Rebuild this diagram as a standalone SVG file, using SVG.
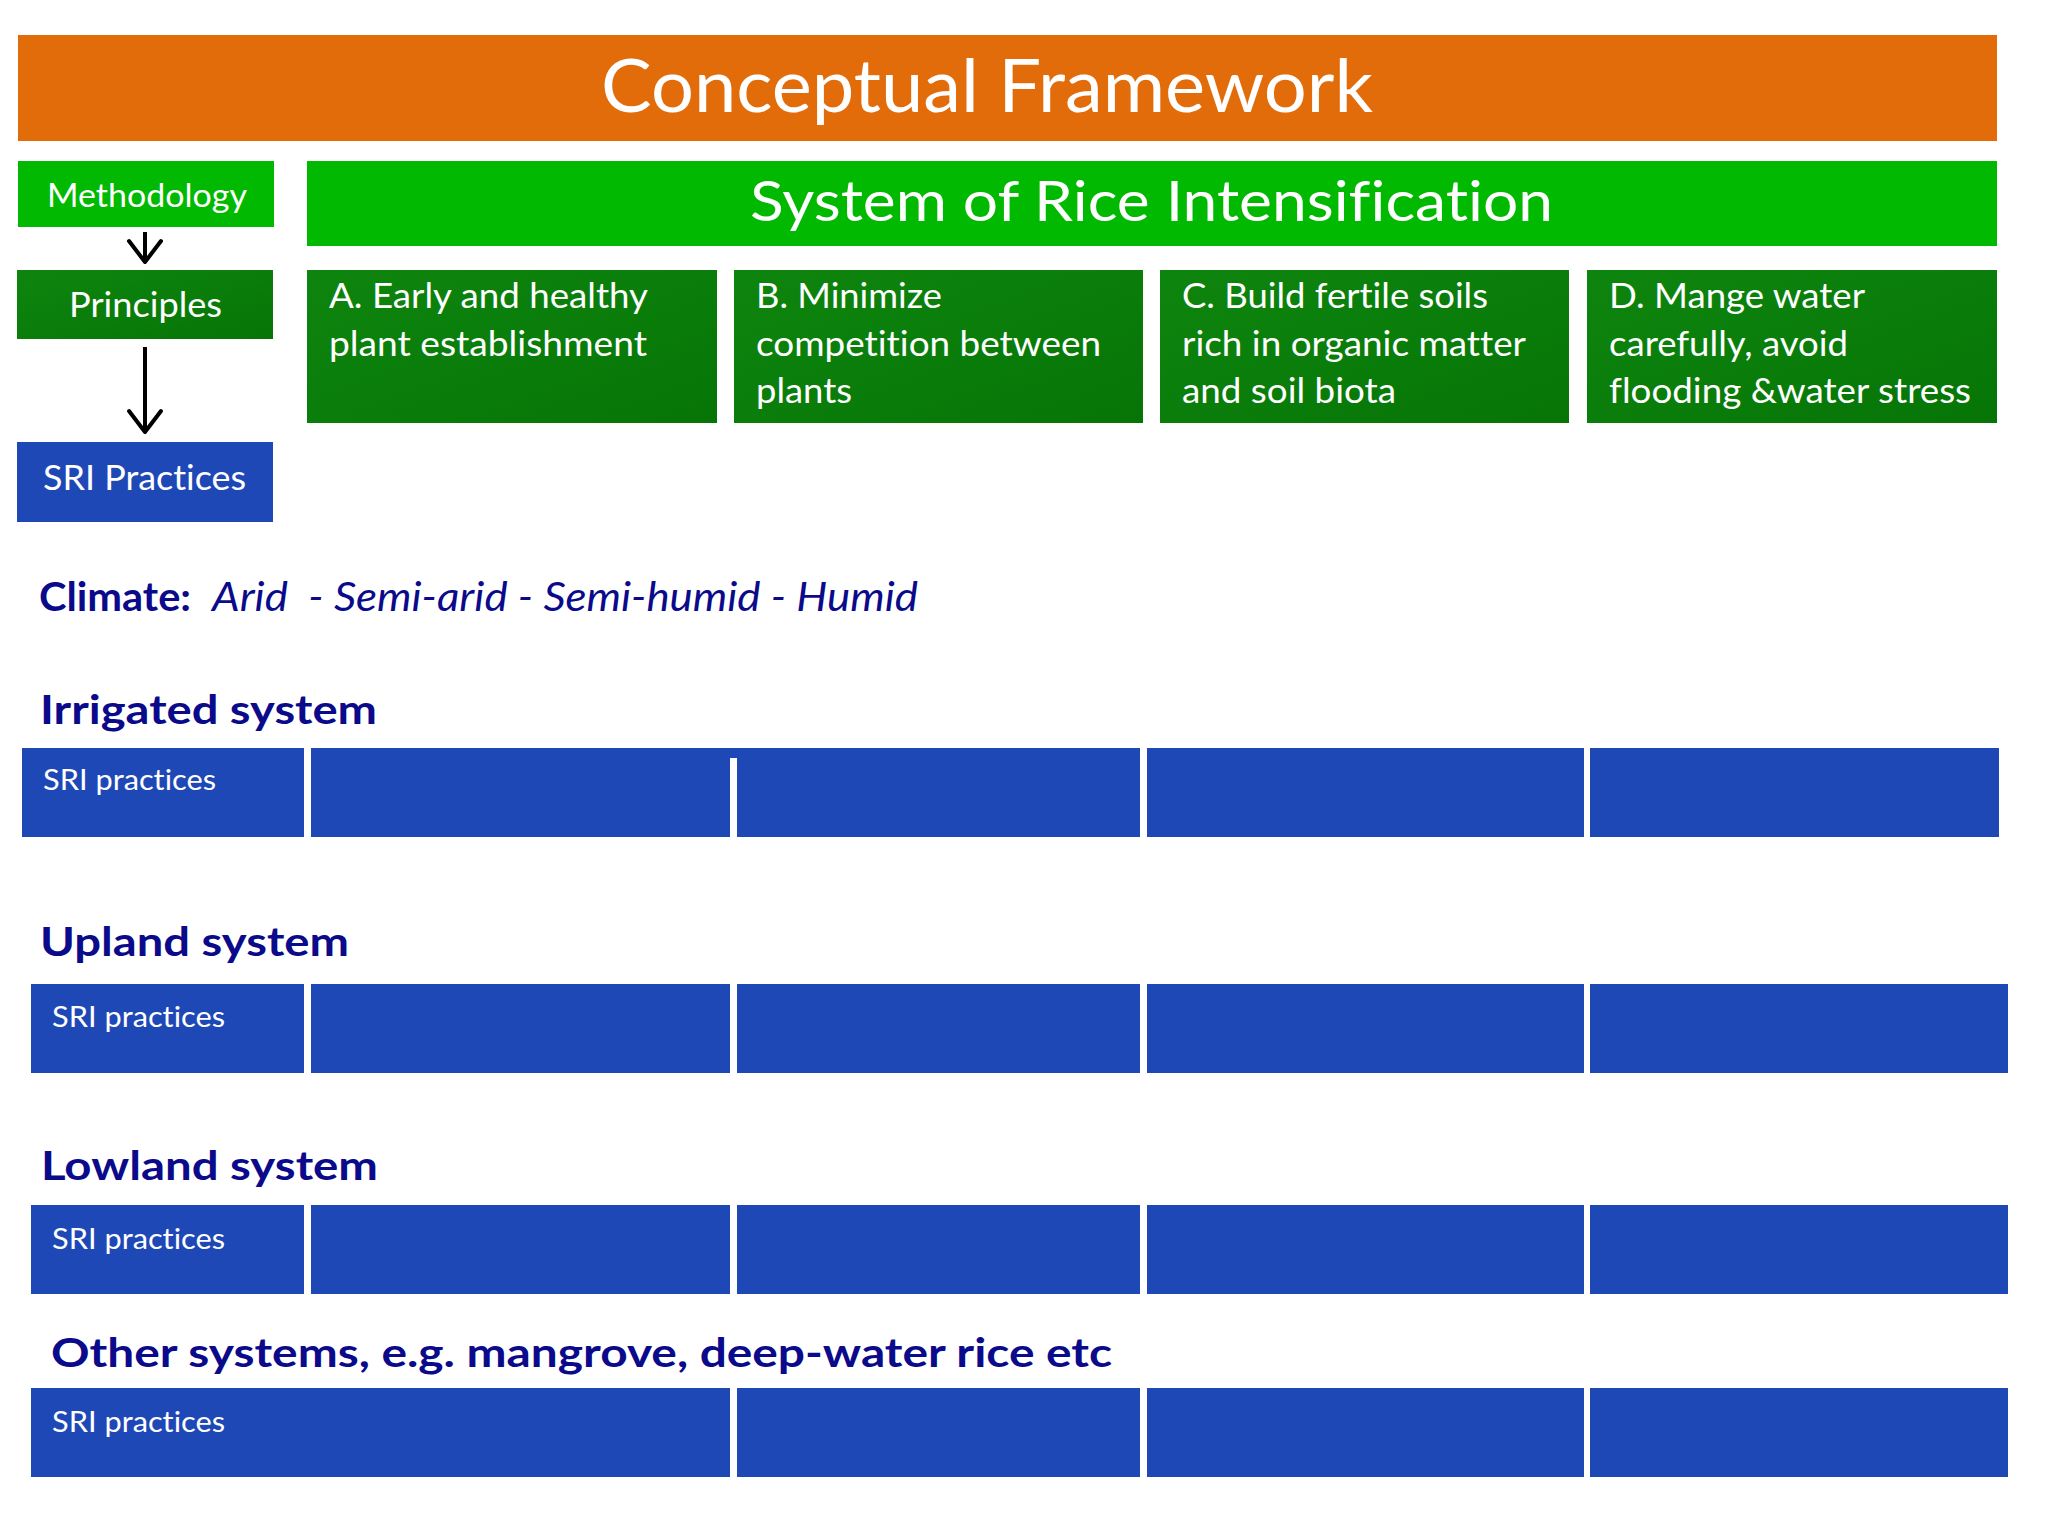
<svg xmlns="http://www.w3.org/2000/svg" width="2048" height="1536" viewBox="0 0 2048 1536">
<defs>
<style>
text{font-family:Lato,"Open Sans","Liberation Sans",sans-serif;font-variant-ligatures:none;font-feature-settings:"liga" 0;}
.w{fill:#ffffff;}
.n{fill:#0A0A8A;}
.b{font-weight:bold;}
.i{font-style:italic;}
.org{fill:#E36C0A;}
.lg{fill:#00B900;}
.dg{fill:url(#dgg);}
.bl{fill:#1F48B7;}
.pt{font-size:35px;}
.sp{font-size:29px;}
.hd{font-size:41px;font-weight:bold;}
.arr{stroke:#000;stroke-width:4;fill:none;marker-end:url(#vh);}
</style>
<linearGradient id="dgg" x1="0" y1="0" x2="1" y2="1">
<stop offset="0" stop-color="#0E850E"/>
<stop offset="1" stop-color="#067506"/>
</linearGradient>
<marker id="vh" markerUnits="userSpaceOnUse" viewBox="-24 -20 28 40" refX="0" refY="0" markerWidth="28" markerHeight="40" orient="auto">
<path d="M-21,-16 L0,0 L-21,16" fill="none" stroke="#000" stroke-width="4" stroke-linejoin="round" stroke-linecap="round"/>
</marker>
</defs>
<rect width="2048" height="1536" fill="#ffffff"/>

<g id="title">
<rect class="org" x="18" y="35" width="1979" height="106"/>
<text class="w" x="601" y="112" font-size="74" textLength="772" lengthAdjust="spacingAndGlyphs">Conceptual Framework</text>
</g>

<g id="methodology">
<rect class="lg" x="18" y="161" width="256" height="66"/>
<text class="w" x="47" y="207" font-size="32" textLength="200" lengthAdjust="spacingAndGlyphs">Methodology</text>
</g>

<g id="principles">
<rect class="dg" x="17" y="270" width="256" height="69"/>
<text class="w" x="69" y="317" font-size="35" textLength="153" lengthAdjust="spacingAndGlyphs">Principles</text>
</g>

<g id="sri-practices">
<rect class="bl" x="17" y="442" width="256" height="80"/>
<text class="w" x="43" y="490" font-size="35" textLength="203" lengthAdjust="spacingAndGlyphs">SRI Practices</text>
</g>

<g id="sri">
<rect class="lg" x="307" y="161" width="1690" height="85"/>
<text class="w" x="750" y="221" font-size="57" textLength="803" lengthAdjust="spacingAndGlyphs">System of Rice Intensification</text>
</g>

<g id="principle-a">
<rect class="dg" x="307" y="270" width="410" height="153"/>
<text class="w pt" x="329" y="308" textLength="319" lengthAdjust="spacingAndGlyphs">A. Early and healthy</text>
<text class="w pt" x="329" y="356" textLength="318" lengthAdjust="spacingAndGlyphs">plant establishment</text>
</g>

<g id="principle-b">
<rect class="dg" x="734" y="270" width="409" height="153"/>
<text class="w pt" x="756" y="308" textLength="186" lengthAdjust="spacingAndGlyphs">B. Minimize</text>
<text class="w pt" x="756" y="356" textLength="345" lengthAdjust="spacingAndGlyphs">competition between</text>
<text class="w pt" x="756" y="403" textLength="96" lengthAdjust="spacingAndGlyphs">plants</text>
</g>

<g id="principle-c">
<rect class="dg" x="1160" y="270" width="409" height="153"/>
<text class="w pt" x="1182" y="308" textLength="306" lengthAdjust="spacingAndGlyphs">C. Build fertile soils</text>
<text class="w pt" x="1182" y="356" textLength="344" lengthAdjust="spacingAndGlyphs">rich in organic matter</text>
<text class="w pt" x="1182" y="403" textLength="214" lengthAdjust="spacingAndGlyphs">and soil biota</text>
</g>

<g id="principle-d">
<rect class="dg" x="1587" y="270" width="410" height="153"/>
<text class="w pt" x="1609" y="308" textLength="256" lengthAdjust="spacingAndGlyphs">D. Mange water</text>
<text class="w pt" x="1609" y="356" textLength="239" lengthAdjust="spacingAndGlyphs">carefully, avoid</text>
<text class="w pt" x="1609" y="403" textLength="362" lengthAdjust="spacingAndGlyphs">flooding &amp;water stress</text>
</g>

<g id="climate">
<text class="n b" x="39" y="611" font-size="40" textLength="152" lengthAdjust="spacingAndGlyphs">Climate:</text>
<text class="n i" x="212" y="611" font-size="40" textLength="706" lengthAdjust="spacingAndGlyphs" xml:space="preserve">Arid  - Semi-arid - Semi-humid - Humid</text>
</g>

<g id="irrigated">
<text class="n hd" x="40" y="724" textLength="337" lengthAdjust="spacingAndGlyphs">Irrigated system</text>
<rect class="bl" x="22" y="748" width="282" height="89"/>
<rect class="bl" x="311" y="748" width="419" height="89"/>
<rect class="bl" x="729" y="748" width="9" height="10"/>
<rect class="bl" x="737" y="748" width="403" height="89"/>
<rect class="bl" x="1147" y="748" width="437" height="89"/>
<rect class="bl" x="1590" y="748" width="409" height="89"/>
<text class="w sp" x="43" y="790" textLength="173" lengthAdjust="spacingAndGlyphs">SRI practices</text>
</g>

<g id="upland">
<text class="n hd" x="40" y="956" textLength="309" lengthAdjust="spacingAndGlyphs">Upland system</text>
<rect class="bl" x="31" y="984" width="273" height="89"/>
<rect class="bl" x="311" y="984" width="419" height="89"/>
<rect class="bl" x="737" y="984" width="403" height="89"/>
<rect class="bl" x="1147" y="984" width="437" height="89"/>
<rect class="bl" x="1590" y="984" width="418" height="89"/>
<text class="w sp" x="52" y="1027" textLength="173" lengthAdjust="spacingAndGlyphs">SRI practices</text>
</g>

<g id="lowland">
<text class="n hd" x="41" y="1180" textLength="337" lengthAdjust="spacingAndGlyphs">Lowland system</text>
<rect class="bl" x="31" y="1205" width="273" height="89"/>
<rect class="bl" x="311" y="1205" width="419" height="89"/>
<rect class="bl" x="737" y="1205" width="403" height="89"/>
<rect class="bl" x="1147" y="1205" width="437" height="89"/>
<rect class="bl" x="1590" y="1205" width="418" height="89"/>
<text class="w sp" x="52" y="1249" textLength="173" lengthAdjust="spacingAndGlyphs">SRI practices</text>
</g>

<g id="other">
<text class="n hd" x="51" y="1367" textLength="1061" lengthAdjust="spacingAndGlyphs">Other systems, e.g. mangrove, deep-water rice etc</text>
<rect class="bl" x="31" y="1388" width="699" height="89"/>
<rect class="bl" x="737" y="1388" width="403" height="89"/>
<rect class="bl" x="1147" y="1388" width="437" height="89"/>
<rect class="bl" x="1590" y="1388" width="418" height="89"/>
<text class="w sp" x="52" y="1432" textLength="173" lengthAdjust="spacingAndGlyphs">SRI practices</text>
</g>

<g id="connectors">
<line class="arr" x1="145" y1="232" x2="145" y2="262"/>
<line class="arr" x1="145" y1="347" x2="145" y2="432"/>
</g>
</svg>
